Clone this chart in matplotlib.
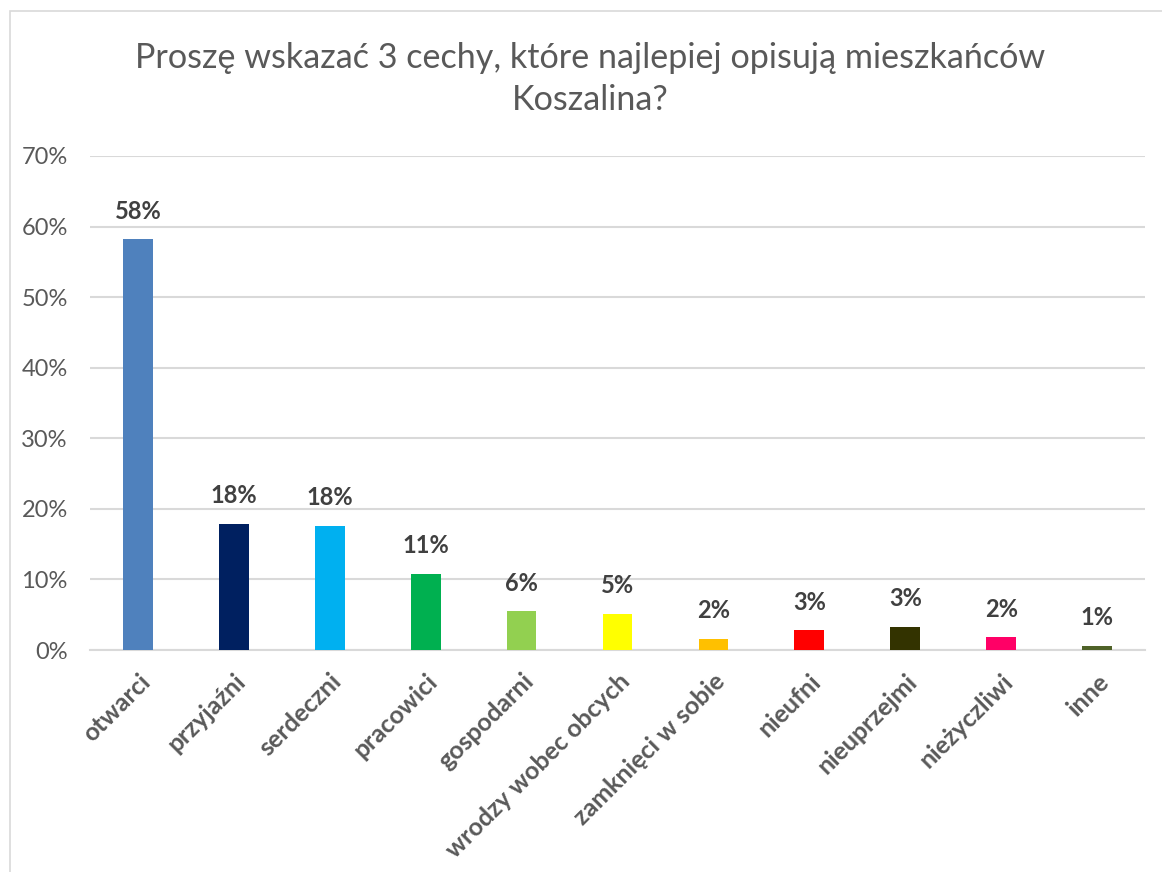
import matplotlib
matplotlib.use("Agg")
import matplotlib.pyplot as plt
from matplotlib.patches import Rectangle

    #========= DATA ======================================================#

CATEGORIES = ["otwarci", "przyjaźni", "serdeczni", "pracowici", "gospodarni",
              "wrodzy wobec obcych", "zamknięci w sobie", "nieufni",
              "nieuprzejmi", "nieżyczliwi", "inne"]
VALUES = [0.582, 0.179, 0.176, 0.108, 0.055, 0.051, 0.016, 0.028, 0.033, 0.018, 0.006]
LABELS = ["58%", "18%", "18%", "11%", "6%", "5%", "2%", "3%", "3%", "2%", "1%"]
COLORS = ["#4F81BD", "#002060", "#00B0F0", "#00B050", "#92D050", "#FFFF00",
          "#FFC000", "#FF0000", "#333300", "#FF0066", "#4F6228"]
YTICKS = [0, 0.1, 0.2, 0.3, 0.4, 0.5, 0.6, 0.7]

TITLE = "Proszę wskazać 3 cechy, które najlepiej opisują mieszkańców\nKoszalina?"

    #========= FIGURE ====================================================#

plt.rcParams["font.family"] = ["Lato", "DejaVu Sans"]
TEXT = "#595959"

fig = plt.figure(figsize=(11.62, 8.72), dpi=100)
fig.patches.append(Rectangle((10/1162, -0.1), 1.2, 1.1 - 11/872, transform=fig.transFigure,
                             fill=False, edgecolor="#D9D9D9", linewidth=1.2))
ax = fig.add_axes([90/1162, 1 - 650/872, (1145 - 90)/1162, (650 - 156)/872])

x = range(len(CATEGORIES))
bars = ax.bar(x, VALUES, width=0.31, color=COLORS, zorder=3)
for b, lab in zip(bars, LABELS):
    ax.annotate(lab, (b.get_x() + b.get_width()/2, b.get_height()), xytext=(0, 12),
                textcoords="offset points", ha="center", va="bottom",
                fontsize=17, fontweight="bold", color="#404040")

ax.set_xlim(-0.5, len(CATEGORIES) - 0.5)
ax.set_ylim(0, 0.7)
ax.set_yticks(YTICKS)
ax.set_yticklabels(["%d%%" % round(t*100) for t in YTICKS], fontsize=17, color=TEXT)
ax.set_xticks(list(x))
ax.set_xticklabels(CATEGORIES, rotation=45, ha="right", rotation_mode="anchor",
                   fontsize=18, fontweight="bold", color=TEXT)
ax.tick_params(axis="both", length=0)
ax.tick_params(axis="y", pad=16)
ax.tick_params(axis="x", pad=14)
ax.grid(axis="y", color="#D9D9D9", linewidth=1.5, zorder=0)
for s in ["top", "right", "left"]:
    ax.spines[s].set_visible(False)
ax.spines["bottom"].set_color("#D9D9D9")
ax.spines["bottom"].set_linewidth(1.5)

fig.text(0.508, 1 - 79/872, TITLE, ha="center", va="center", fontsize=24.6,
         color=TEXT, linespacing=1.35)

plt.savefig("out.png", dpi=100)
